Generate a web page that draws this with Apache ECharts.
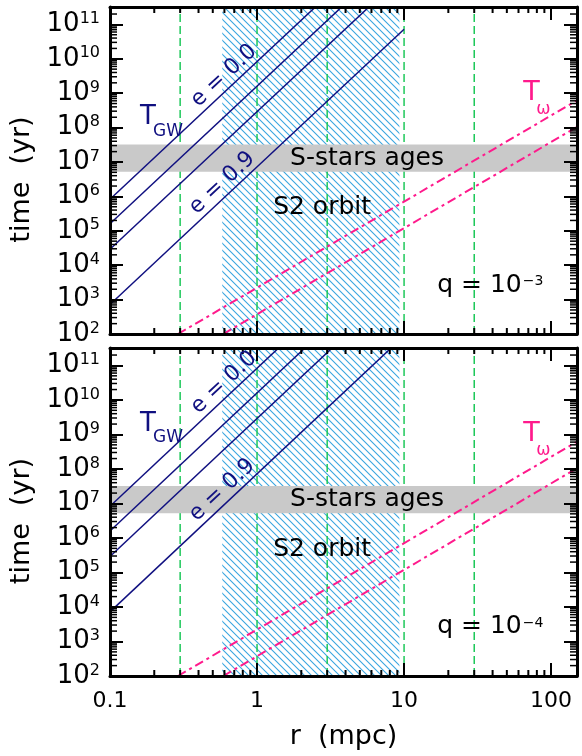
<!DOCTYPE html>
<html>
<head>
<meta charset="utf-8">
<script src="https://cdn.jsdelivr.net/npm/echarts@6/dist/echarts.min.js"></script>
<style>
html, body { margin: 0; padding: 0; background: #fff; }
#chart { width: 582px; height: 756px; }
</style>
</head>
<body>
<div id="chart"></div>
<script>
// axis ranges (r in mpc, time in yr)
var rRange = [0.1, 150]
var tRange = [100, 3.2e11]
var rMinorMant = [2, 3, 4, 5, 6, 7, 8, 9]
var rMinorDecades = [0.1, 1, 10]
var tMinorDecades = [1e2, 1e3, 1e4, 1e5, 1e6, 1e7, 1e8, 1e9, 1e10, 1e11]

// vertical dashed reference radii
var refRadii = [0.3, 1, 3, 10, 30]
// S2 orbit (pericentre .. apocentre), S-stars ages band
var s2Orbit = [0.58, 9.3]
var sStarAges = [5.2e6, 3.2e7]

// T_GW lines (e = 0.0, 0.5, 0.7, 0.9): time at r = 0.1 and r = 10
var tgwR = [0.1, 10]
var tgwTop = [[8.3e5, 8.3e13], [1.6e5, 1.6e13], [2.9e4, 2.9e12], [7.2e2, 7.2e10]]
var tgwBottom = [[8.3e6, 8.3e14], [1.6e6, 1.6e14], [2.9e5, 2.9e13], [7.2e3, 7.2e11]]
// T_omega lines: two end points each
var tOmega = [[[0.29, 100], [150, 6.2e8]], [[0.59, 100], [150, 1.05e8]]]
var qExp = ["\u22123", "\u22124"]

var NAVY = "#101080"
var GREEN = "#1ec85a"
var PINK = "#ff1a8c"
var FONT = "DejaVu Sans"

var rMinor = []
rMinorDecades.forEach(function (d) {
	rMinorMant.forEach(function (m) { rMinor.push(m * d) })
})
var tMinor = []
tMinorDecades.forEach(function (d) {
	rMinorMant.forEach(function (m) { if (m * d < tRange[1]) tMinor.push(m * d) })
})

// hatch pattern for the S2 orbit range
var hatch = document.createElement("canvas")
hatch.width = 7
hatch.height = 7
var hc = hatch.getContext("2d")
hc.strokeStyle = "#3aa6e0"
hc.lineWidth = 1.1
hc.beginPath()
hc.moveTo(0, 0); hc.lineTo(7, 7)
hc.moveTo(-1, 6); hc.lineTo(1, 8)
hc.moveTo(6, -1); hc.lineTo(8, 1)
hc.stroke()

function axisBase(gi, extra) {
	var a = {
		type: "log",
		logBase: 10,
		gridIndex: gi,
		z: 10,
		axisLine: { show: true, onZero: false, lineStyle: { color: "#000", width: 3 } },
		axisTick: { show: true, inside: true, length: 13, lineStyle: { color: "#000", width: 2 } },
		axisLabel: { show: false },
		splitLine: { show: false },
		minorTick: { show: false }
	}
	for (var k in extra) a[k] = extra[k]
	return a
}

var xAxes = [], yAxes = []
for (var gi = 0; gi < 2; gi++) {
	var bottomLabels = gi === 1
	xAxes.push(axisBase(gi, {
		position: "bottom", min: rRange[0], max: rRange[1],
		name: bottomLabels ? "r  (mpc)" : "",
		nameLocation: "middle", nameGap: 47,
		nameTextStyle: { fontFamily: FONT, fontSize: 27, color: "#000" },
		axisLabel: {
			show: bottomLabels, showMaxLabel: false, margin: 14,
			fontFamily: FONT, fontSize: 22, color: "#000",
			formatter: function (v) { return v < 1 ? "0.1" : String(Math.round(v)) }
		}
	}))
	xAxes.push(axisBase(gi, { position: "top", min: rRange[0], max: rRange[1] }))
	yAxes.push(axisBase(gi, {
		position: "left", min: tRange[0], max: tRange[1], splitNumber: 10,
		name: "time  (yr)", nameLocation: "middle", nameGap: 71,
		nameTextStyle: { fontFamily: FONT, fontSize: 27, color: "#000", padding: [0, 18, 0, 0] },
		axisLabel: {
			show: true, showMaxLabel: false, margin: 10, color: "#000",
			formatter: function (v) {
				return "{b|10}{s|" + Math.round(Math.log10(v)) + "}"
			},
			rich: {
				b: { fontFamily: FONT, fontSize: 26, color: "#000" },
				s: { fontFamily: FONT, fontSize: 16, color: "#000", padding: [0, 0, 11, 0] }
			}
		}
	}))
	yAxes.push(axisBase(gi, { position: "right", min: tRange[0], max: tRange[1], splitNumber: 10 }))
}

function rectItem(params, api) {
	var p0 = api.coord([api.value(0), api.value(1)])
	var p1 = api.coord([api.value(2), api.value(3)])
	return {
		type: "rect",
		shape: { x: p0[0], y: p1[1], width: p1[0] - p0[0], height: p0[1] - p1[1] },
		style: { fill: api.visual("color") }
	}
}

function panelSeries(gi, tgw) {
	var xi = gi * 2, yi = gi * 2
	var list = []
	list.push({
		type: "custom", name: "S2 orbit", xAxisIndex: xi, yAxisIndex: yi, z: 1, silent: true,
		itemStyle: { color: { image: hatch, repeat: "repeat" } },
		encode: { x: [0, 2], y: [1, 3] },
		data: [[s2Orbit[0], tRange[0], s2Orbit[1], tRange[1]]],
		renderItem: function (params, api) {
			var el = rectItem(params, api)
			el.style.fill = { image: hatch, repeat: "repeat" }
			return el
		}
	})
	refRadii.forEach(function (r) {
		list.push({
			type: "line", xAxisIndex: xi, yAxisIndex: yi, z: 2, silent: true, symbol: "none",
			lineStyle: { color: GREEN, width: 1.5, type: [8, 4] },
			data: [[r, tRange[0]], [r, tRange[1]]]
		})
	})
	list.push({
		type: "custom", name: "S-stars ages", xAxisIndex: xi, yAxisIndex: yi, z: 3, silent: true,
		itemStyle: { color: "#c9c9c9" },
		encode: { x: [0, 2], y: [1, 3] },
		data: [[rRange[0], sStarAges[0], rRange[1], sStarAges[1]]],
		renderItem: rectItem
	})
	tgw.forEach(function (pair) {
		list.push({
			type: "line", xAxisIndex: xi, yAxisIndex: yi, z: 4, silent: true, symbol: "none",
			lineStyle: { color: NAVY, width: 1.5 },
			data: [[tgwR[0], pair[0]], [tgwR[1], pair[1]]]
		})
	})
	tOmega.forEach(function (pts) {
		list.push({
			type: "line", xAxisIndex: xi, yAxisIndex: yi, z: 4, silent: true, symbol: "none",
			lineStyle: { color: PINK, width: 2, type: [9, 4, 3, 4] },
			data: pts
		})
	})
	// minor ticks on all four sides
	list.push({
		type: "custom", xAxisIndex: xi, yAxisIndex: yi, z: 12, silent: true, clip: false,
		data: rMinor.map(function (v) { return [v, 1e5] }),
		renderItem: function (params, api) {
			var cs = params.coordSys
			var x = api.coord([api.value(0), 1e5])[0]
			var yb = cs.y + cs.height, yt = cs.y
			return { type: "group", children: [
				{ type: "line", shape: { x1: x, y1: yb, x2: x, y2: yb - 6 }, style: { stroke: "#000", lineWidth: 2 } },
				{ type: "line", shape: { x1: x, y1: yt, x2: x, y2: yt + 6 }, style: { stroke: "#000", lineWidth: 2 } }
			] }
		}
	})
	list.push({
		type: "custom", xAxisIndex: xi, yAxisIndex: yi, z: 12, silent: true, clip: false,
		data: tMinor.map(function (v) { return [1, v] }),
		renderItem: function (params, api) {
			var cs = params.coordSys
			var y = api.coord([1, api.value(1)])[1]
			var xl = cs.x, xr = cs.x + cs.width
			return { type: "group", children: [
				{ type: "line", shape: { x1: xl, y1: y, x2: xl + 7, y2: y }, style: { stroke: "#000", lineWidth: 1.5 } },
				{ type: "line", shape: { x1: xr, y1: y, x2: xr - 7, y2: y }, style: { stroke: "#000", lineWidth: 1.5 } }
			] }
		}
	})
	return list
}

var chart = echarts.init(document.getElementById("chart"), null, { renderer: "canvas" })
chart.setOption({
	animation: false,
	backgroundColor: "#fff",
	grid: [
		{ left: 110, top: 7, width: 467, height: 327 },
		{ left: 110, top: 348, width: 467, height: 328 }
	],
	xAxis: xAxes,
	yAxis: yAxes,
	series: panelSeries(0, tgwTop).concat(panelSeries(1, tgwBottom))
})

// annotations anchored in data coordinates: [r, t] per panel
var notes = [
	{ text: "S-stars ages", at: [[5.6, 1.3e7], [5.6, 1.3e7]], size: 25, color: "#000", align: "center" },
	{ text: "S2 orbit", at: [[2.77, 4.6e5], [2.77, 4.6e5]], size: 25, color: "#000", align: "center" },
	{ text: "T", at: [[0.16, 1.95e8], [0.16, 1.95e9]], size: 26, color: NAVY, align: "left" },
	{ text: "GW", at: [[0.16, 1.95e8], [0.16, 1.95e9]], dx: 13, dy: 13.5, size: 17, color: NAVY, align: "left" },
	{ text: "e = 0.0", at: [[0.596, 3.2e9], [0.596, 3.2e10]], size: 22, color: NAVY, align: "center", rot: 43 },
	{ text: "e = 0.9", at: [[0.58, 2.45e6], [0.58, 2.45e7]], size: 22, color: NAVY, align: "center", rot: 43 },
	{ text: "T", at: [[64.6, 1e9], [64.6, 1e9]], size: 27, color: PINK, align: "left" },
	{ text: "\u03c9", at: [[64.6, 1e9], [64.6, 1e9]], dx: 13, dy: 16, size: 17, color: PINK, align: "left" }
]
var graphics = []
for (var g = 0; g < 2; g++) {
	notes.forEach(function (n) {
		var p = chart.convertToPixel({ xAxisIndex: g * 2, yAxisIndex: g * 2 }, n.at[g])
		graphics.push({
			type: "text", z: 20, silent: true,
			x: p[0] + (n.dx || 0), y: p[1] + (n.dy || 0),
			rotation: (n.rot || 0) * Math.PI / 180,
			style: { text: n.text, fill: n.color, fontFamily: FONT, fontSize: n.size, align: n.align, verticalAlign: "middle" }
		})
	})
	var qp = chart.convertToPixel({ xAxisIndex: g * 2, yAxisIndex: g * 2 }, [16.8, 2.65e3])
	graphics.push({
		type: "text", z: 20, silent: true, x: qp[0], y: qp[1],
		style: {
			text: "{b|q = 10}{s|" + qExp[g] + "}", align: "left", verticalAlign: "middle",
			rich: {
				b: { fontFamily: FONT, fontSize: 25, fill: "#000" },
				s: { fontFamily: FONT, fontSize: 14, fill: "#000", padding: [0, 0, 8, 1] }
			}
		}
	})
}
chart.setOption({ graphic: graphics })
</script>
</body>
</html>
